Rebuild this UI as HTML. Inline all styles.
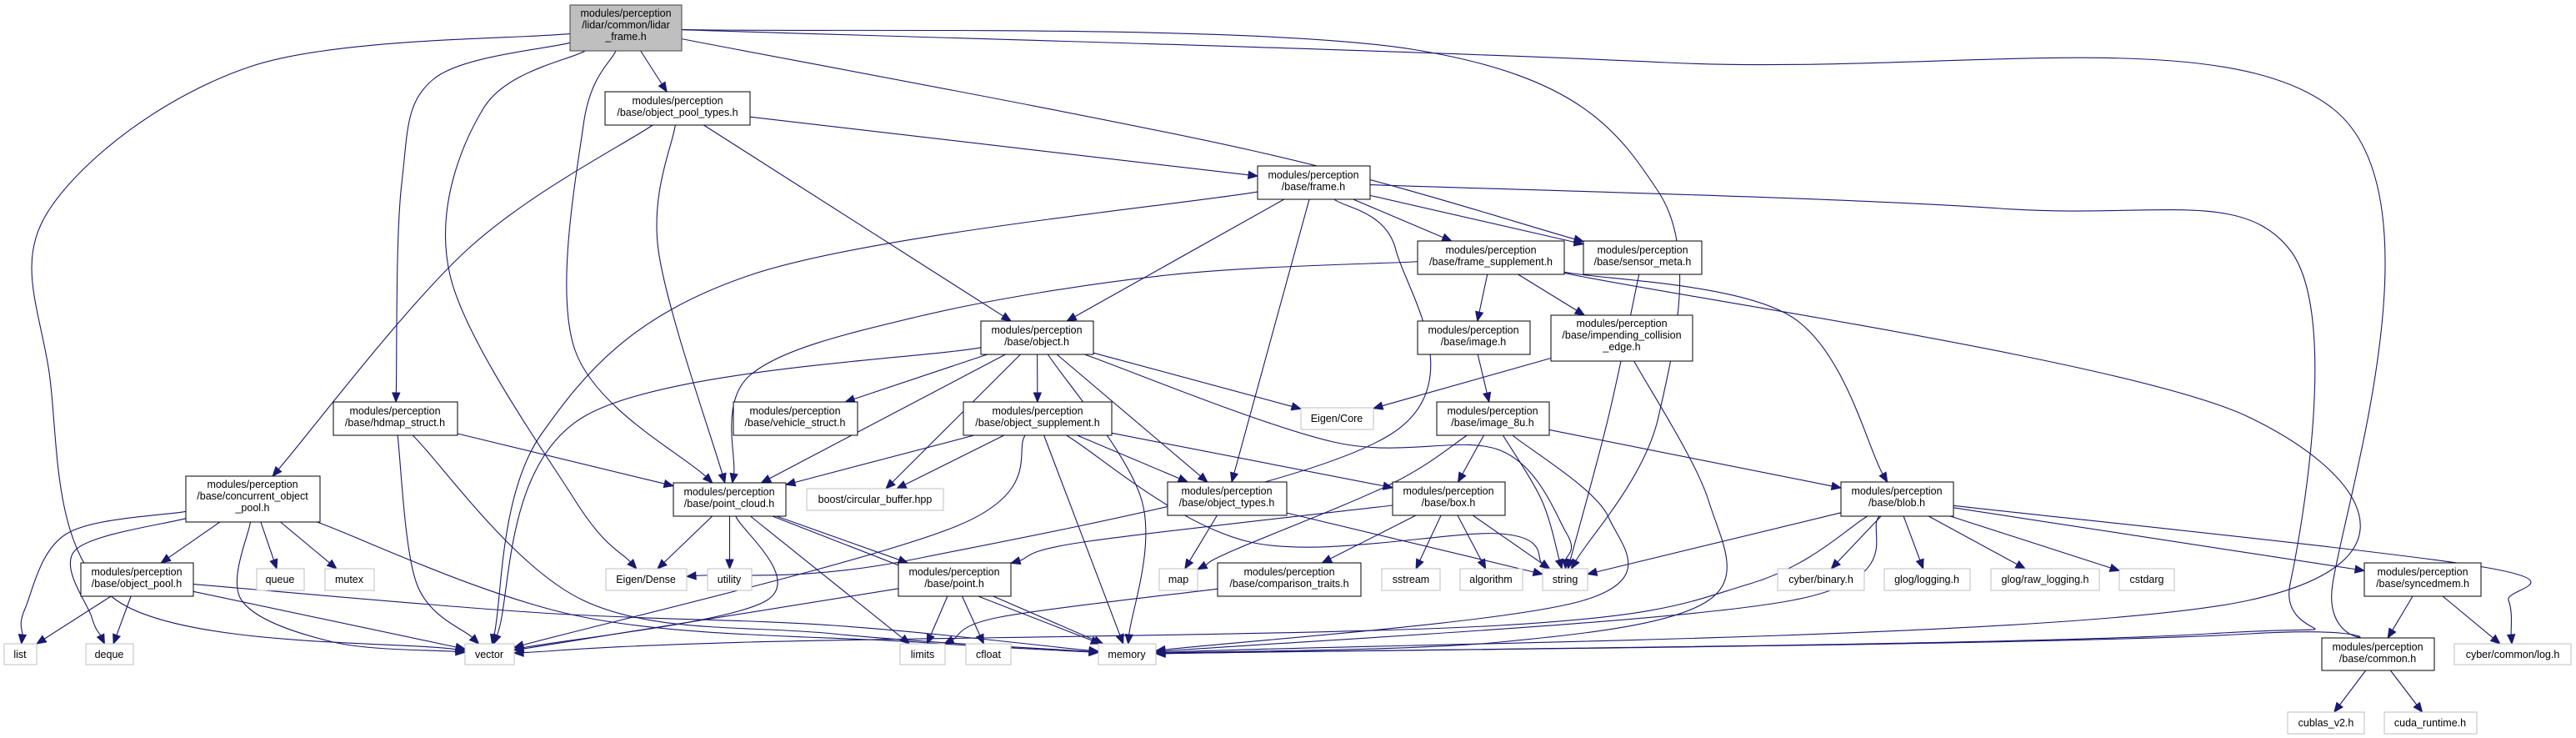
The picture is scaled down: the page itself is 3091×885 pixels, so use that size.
<!DOCTYPE html>
<html><head><meta charset="utf-8">
<style>
html,body{margin:0;padding:0;background:#fff;}
svg{display:block;}
text{font-family:"Liberation Sans",sans-serif;font-size:12.5px;fill:#000;}
</style></head>
<body>
<svg id="g" width="3091" height="885" viewBox="0 0 3091 885" xmlns="http://www.w3.org/2000/svg">
<g id="edges" fill="none" stroke="#191970" stroke-width="1.1"></g>
<g id="heads" fill="#191970" stroke="#191970"></g>
<g id="nodes">
<rect x="684" y="6" width="134" height="55" fill="#bfbfbf" stroke="#404040"/>
<text x="751" y="20" text-anchor="middle">modules/perception</text>
<text x="751" y="34" text-anchor="middle">/lidar/common/lidar</text>
<text x="751" y="48" text-anchor="middle">_frame.h</text>

<rect x="726" y="110" width="174" height="40" fill="#fff" stroke="#000"/>
<text x="813" y="125" text-anchor="middle">modules/perception</text>
<text x="813" y="139" text-anchor="middle">/base/object_pool_types.h</text>

<rect x="400" y="482" width="149" height="40" fill="#fff" stroke="#000"/>
<text x="474" y="497" text-anchor="middle">modules/perception</text>
<text x="474" y="511" text-anchor="middle">/base/hdmap_struct.h</text>

<rect x="223" y="571" width="161" height="55" fill="#fff" stroke="#000"/>
<text x="303" y="585" text-anchor="middle">modules/perception</text>
<text x="303" y="599" text-anchor="middle">/base/concurrent_object</text>
<text x="303" y="613" text-anchor="middle">_pool.h</text>

<rect x="97" y="675" width="135" height="40" fill="#fff" stroke="#000"/>
<text x="164" y="690" text-anchor="middle">modules/perception</text>
<text x="164" y="704" text-anchor="middle">/base/object_pool.h</text>

<rect x="808" y="579" width="135" height="40" fill="#fff" stroke="#000"/>
<text x="875" y="594" text-anchor="middle">modules/perception</text>
<text x="875" y="608" text-anchor="middle">/base/point_cloud.h</text>

<rect x="880" y="482" width="149" height="40" fill="#fff" stroke="#000"/>
<text x="954" y="497" text-anchor="middle">modules/perception</text>
<text x="954" y="511" text-anchor="middle">/base/vehicle_struct.h</text>

<rect x="1509" y="199" width="135" height="40" fill="#fff" stroke="#000"/>
<text x="1576" y="214" text-anchor="middle">modules/perception</text>
<text x="1576" y="228" text-anchor="middle">/base/frame.h</text>

<rect x="1701" y="289" width="176" height="40" fill="#fff" stroke="#000"/>
<text x="1789" y="304" text-anchor="middle">modules/perception</text>
<text x="1789" y="318" text-anchor="middle">/base/frame_supplement.h</text>

<rect x="1900" y="289" width="142" height="40" fill="#fff" stroke="#000"/>
<text x="1971" y="304" text-anchor="middle">modules/perception</text>
<text x="1971" y="318" text-anchor="middle">/base/sensor_meta.h</text>

<rect x="1177" y="385" width="135" height="40" fill="#fff" stroke="#000"/>
<text x="1244" y="400" text-anchor="middle">modules/perception</text>
<text x="1244" y="414" text-anchor="middle">/base/object.h</text>

<rect x="1701" y="385" width="135" height="40" fill="#fff" stroke="#000"/>
<text x="1768" y="400" text-anchor="middle">modules/perception</text>
<text x="1768" y="414" text-anchor="middle">/base/image.h</text>

<rect x="1861" y="378" width="170" height="55" fill="#fff" stroke="#000"/>
<text x="1946" y="392" text-anchor="middle">modules/perception</text>
<text x="1946" y="406" text-anchor="middle">/base/impending_collision</text>
<text x="1946" y="420" text-anchor="middle">_edge.h</text>

<rect x="1156" y="482" width="178" height="40" fill="#fff" stroke="#000"/>
<text x="1245" y="497" text-anchor="middle">modules/perception</text>
<text x="1245" y="511" text-anchor="middle">/base/object_supplement.h</text>

<rect x="1724" y="482" width="135" height="40" fill="#fff" stroke="#000"/>
<text x="1791" y="497" text-anchor="middle">modules/perception</text>
<text x="1791" y="511" text-anchor="middle">/base/image_8u.h</text>

<rect x="1401" y="578" width="143" height="40" fill="#fff" stroke="#000"/>
<text x="1472" y="593" text-anchor="middle">modules/perception</text>
<text x="1472" y="607" text-anchor="middle">/base/object_types.h</text>

<rect x="1671" y="578" width="135" height="40" fill="#fff" stroke="#000"/>
<text x="1738" y="593" text-anchor="middle">modules/perception</text>
<text x="1738" y="607" text-anchor="middle">/base/box.h</text>

<rect x="1078" y="675" width="135" height="40" fill="#fff" stroke="#000"/>
<text x="1145" y="690" text-anchor="middle">modules/perception</text>
<text x="1145" y="704" text-anchor="middle">/base/point.h</text>

<rect x="1461" y="675" width="172" height="40" fill="#fff" stroke="#000"/>
<text x="1547" y="690" text-anchor="middle">modules/perception</text>
<text x="1547" y="704" text-anchor="middle">/base/comparison_traits.h</text>

<rect x="2209" y="578" width="135" height="41" fill="#fff" stroke="#000"/>
<text x="2276" y="593" text-anchor="middle">modules/perception</text>
<text x="2276" y="607" text-anchor="middle">/base/blob.h</text>

<rect x="2837" y="675" width="140" height="40" fill="#fff" stroke="#000"/>
<text x="2907" y="690" text-anchor="middle">modules/perception</text>
<text x="2907" y="704" text-anchor="middle">/base/syncedmem.h</text>

<rect x="2786" y="765" width="135" height="39" fill="#fff" stroke="#000"/>
<text x="2853" y="780" text-anchor="middle">modules/perception</text>
<text x="2853" y="794" text-anchor="middle">/base/common.h</text>

<g fill="#fff" stroke="#bfbfbf">
<rect x="308" y="682" width="57" height="26"/><rect x="390" y="682" width="59" height="26"/>
<rect x="5" y="772" width="39" height="25"/><rect x="103" y="772" width="57" height="25"/>
<rect x="558" y="772" width="59" height="25"/><rect x="727" y="682" width="97" height="26"/>
<rect x="849" y="682" width="53" height="26"/><rect x="968" y="586" width="164" height="26"/>
<rect x="1561" y="489" width="87" height="26"/><rect x="1391" y="682" width="46" height="26"/>
<rect x="1658" y="682" width="70" height="26"/><rect x="1752" y="682" width="75" height="26"/>
<rect x="1851" y="682" width="54" height="26"/><rect x="1080" y="772" width="54" height="25"/>
<rect x="1159" y="772" width="54" height="25"/><rect x="1318" y="772" width="69" height="25"/>
<rect x="2133" y="682" width="104" height="26"/><rect x="2261" y="682" width="103" height="26"/>
<rect x="2389" y="682" width="130" height="26"/><rect x="2543" y="682" width="66" height="26"/>
<rect x="2945" y="772" width="140" height="25"/><rect x="2745" y="854" width="92" height="26"/>
<rect x="2861" y="854" width="111" height="26"/>
</g>
<g text-anchor="middle">
<text x="336" y="699">queue</text><text x="419" y="699">mutex</text>
<text x="24" y="789">list</text><text x="131" y="789">deque</text>
<text x="587" y="789">vector</text><text x="775" y="699">Eigen/Dense</text>
<text x="875" y="699">utility</text><text x="1050" y="603">boost/circular_buffer.hpp</text>
<text x="1604" y="506">Eigen/Core</text><text x="1414" y="699">map</text>
<text x="1693" y="699">sstream</text><text x="1789" y="699">algorithm</text>
<text x="1878" y="699">string</text><text x="1107" y="789">limits</text>
<text x="1186" y="789">cfloat</text><text x="1352" y="789">memory</text>
<text x="2185" y="699">cyber/binary.h</text><text x="2312" y="699">glog/logging.h</text>
<text x="2454" y="699">glog/raw_logging.h</text><text x="2576" y="699">cstdarg</text>
<text x="3015" y="789">cyber/common/log.h</text><text x="2791" y="871">cublas_v2.h</text>
<text x="2916" y="871">cuda_runtime.h</text>
</g>
</g>
</svg>
<script>
var N={
lidar:[684,6,818,61],opt:[726,110,900,150],hdmap:[400,482,549,522],conc:[223,571,384,626],
op:[97,675,232,715],pc:[808,579,943,619],veh:[880,482,1029,522],frame:[1509,199,1644,239],
fs:[1701,289,1877,329],sm:[1900,289,2042,329],obj:[1177,385,1312,425],img:[1701,385,1836,425],
imp:[1861,378,2031,433],os:[1156,482,1334,522],i8:[1724,482,1859,522],ot:[1401,578,1544,618],
box:[1671,578,1806,618],pt:[1078,675,1213,715],ct:[1461,675,1633,715],blob:[2209,578,2344,619],
sync:[2837,675,2977,715],com:[2786,765,2921,804],
queue:[308,682,365,708],mutex:[390,682,449,708],list:[5,772,44,797],deque:[103,772,160,797],
vector:[558,772,617,797],ed:[727,682,824,708],util:[849,682,902,708],cb:[968,586,1132,612],
ec:[1561,489,1648,515],map:[1391,682,1437,708],ss:[1658,682,1728,708],alg:[1752,682,1827,708],
str:[1851,682,1905,708],lim:[1080,772,1134,797],cfl:[1159,772,1213,797],mem:[1318,772,1387,797],
bin:[2133,682,2237,708],gl:[2261,682,2364,708],rgl:[2389,682,2519,708],cst:[2543,682,2609,708],
log:[2945,772,3085,797],cub:[2745,854,2837,880],cuda:[2861,854,2972,880]};
function c(n){var b=N[n];return [(b[0]+b[2])/2,(b[1]+b[3])/2];}
function clip(n,p){var b=N[n],o=c(n),dx=p[0]-o[0],dy=p[1]-o[1],hw=(b[2]-b[0])/2,hh=(b[3]-b[1])/2;
var t=Math.min(dx?hw/Math.abs(dx):1e9,dy?hh/Math.abs(dy):1e9);return [o[0]+dx*t,o[1]+dy*t];}
var E=[
['lidar','opt'],['lidar','hdmap',[[520,95],[482,220]]],['lidar','pc',[[700,150],[690,420]]],
['lidar','ed',[[580,130],[540,330],[690,600]]],['lidar','vector',[[300,80],[60,250],[58,440],[140,720]]],
['lidar','sm',[[1500,180]]],['lidar','str',[[1700,60],[1990,230],[1990,500]]],
['lidar','mem',[[2000,75],[2799,130],[2799,700],[2700,760]]],
['opt','conc',[[560,300]]],['opt','pc',[[790,300]]],['opt','obj'],['opt','frame'],
['conc','list',[[80,640],[30,730]]],['conc','deque',[[90,660],[110,740]]],['conc','op'],['conc','queue'],['conc','mutex'],
['conc','vector',[[290,720],[400,770]]],['conc','mem',[[700,740],[1100,770]]],
['op','list'],['op','deque'],['op','vector'],['op','mem',[[650,735],[1000,750]]],
['hdmap','pc'],['hdmap','vector',[[500,700]]],['hdmap','mem',[[700,720],[1000,760]]],
['pc','ed'],['pc','util'],['pc','pt'],['pc','lim'],['pc','vector',[[920,720]]],['pc','mem'],
['frame','obj'],['frame','ot'],['frame','ed',[[1675,300],[1670,520],[1100,670]]],['frame','vector',[[900,330],[650,520]]],
['frame','fs'],['frame','sm'],['frame','mem',[[2400,250],[2748,300],[2748,700],[2650,760]]],
['fs','pc',[[1400,330],[1100,380],[900,450]]],['fs','img'],['fs','imp'],['fs','blob',[[2150,380]]],['fs','mem',[[2698,500],[2698,720]]],
['sm','str',[[1930,500]]],
['obj','vector',[[700,500]]],['obj','pc'],['obj','veh'],['obj','os'],['obj','cb'],['obj','ec'],['obj','ot'],
['obj','str',[[1600,530],[1800,540],[1880,640]]],['obj','mem',[[1370,600]]],
['os','pc'],['os','cb'],['os','vector',[[1150,630]]],['os','mem'],['os','ot'],['os','box'],['os','str',[[1500,650],[1800,640]]],
['img','i8'],['imp','ec'],['imp','mem',[[2050,600],[2050,720],[1800,770]]],
['i8','blob'],['i8','box'],['i8','map',[[1670,580],[1480,660]]],['i8','mem',[[1930,620],[1900,720]]],['i8','str',[[1850,600]]],
['ot','map'],['ot','str'],['box','pt',[[1300,650]]],['box','ct'],['box','ss'],['box','alg'],['box','str'],
['pt','lim'],['pt','cfl'],['pt','mem'],['pt','vector'],['ct','lim',[[1200,740]]],
['blob','str'],['blob','vector',[[2100,700],[1800,750],[900,770]]],['blob','mem',[[2150,720]]],
['blob','bin'],['blob','gl'],['blob','rgl'],['blob','cst'],['blob','sync'],['blob','log',[[2980,680],[3010,720]]],
['sync','com'],['sync','log'],['com','cub'],['com','cuda']];
var ge=document.getElementById('edges'),gh=document.getElementById('heads'),ns='http://www.w3.org/2000/svg';
E.forEach(function(e){var via=e[2]||[];var f=via.length?via[0]:c(e[1]);var l=via.length?via[via.length-1]:c(e[0]);
var s=clip(e[0],f),t=clip(e[1],l);var pts=[s].concat(via,[t]);
var dx=t[0]-pts[pts.length-2][0],dy=t[1]-pts[pts.length-2][1],L=Math.hypot(dx,dy)||1;dx/=L;dy/=L;
var tb=[t[0]-dx*11,t[1]-dy*11];pts[pts.length-1]=tb;
var d='M'+pts[0][0]+','+pts[0][1];
if(pts.length==2){d+='L'+tb[0]+','+tb[1];}else{
for(var i=0;i<pts.length-1;i++){var p0=pts[Math.max(i-1,0)],p1=pts[i],p2=pts[i+1],p3=pts[Math.min(i+2,pts.length-1)];
d+='C'+(p1[0]+(p2[0]-p0[0])/6)+','+(p1[1]+(p2[1]-p0[1])/6)+' '+(p2[0]-(p3[0]-p1[0])/6)+','+(p2[1]-(p3[1]-p1[1])/6)+' '+p2[0]+','+p2[1];}}
var p=document.createElementNS(ns,'path');p.setAttribute('d',d);ge.appendChild(p);
var h=document.createElementNS(ns,'polygon');
h.setAttribute('points',t[0]+','+t[1]+' '+(tb[0]-dy*4.5)+','+(tb[1]+dx*4.5)+' '+(tb[0]+dy*4.5)+','+(tb[1]-dx*4.5));gh.appendChild(h);});
</script>
</body></html>
